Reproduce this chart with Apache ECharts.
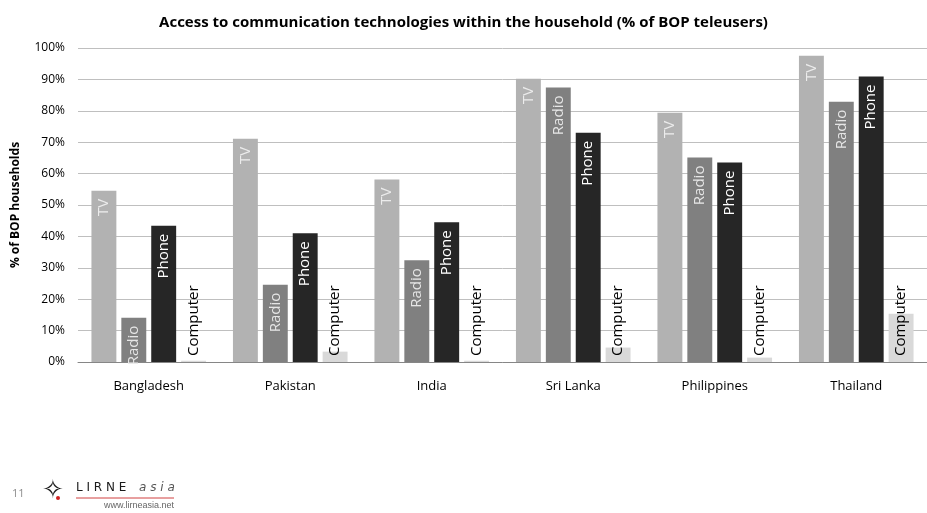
<!DOCTYPE html>
<html>
<head>
<meta charset="utf-8">
<script src="https://cdn.jsdelivr.net/npm/echarts@6/dist/echarts.min.js"></script>
<style>
  html, body { margin: 0; padding: 0; background: #fff; }
  #chart { width: 927px; height: 513px; }
</style>
</head>
<body>
<div id="chart"></div>
<script>
// data (% of BOP households)
const countries = ['Bangladesh', 'Pakistan', 'India', 'Sri Lanka', 'Philippines', 'Thailand']
const tvValues = [54.5, 71.1, 58.1, 90.2, 79.4, 97.5]
const radioValues = [14.1, 24.6, 32.4, 87.4, 65.1, 82.9]
const phoneValues = [43.4, 41.0, 44.5, 73.0, 63.5, 90.9]
const computerValues = [0.4, 3.3, 0.4, 4.6, 1.4, 15.4]

const chart = echarts.init(document.getElementById('chart'))

const font = 'Open Sans'

// label at the top of the bar, reading upwards
function topLabel(name, color) {
  return {
    show: true,
    position: 'insideTop',
    rotate: 90,
    align: 'right',
    verticalAlign: 'middle',
    distance: 8,
    formatter: name,
    color: color,
    fontFamily: font,
    fontSize: 15
  }
}

function makeBar(name, values, barColor, label) {
  return {
    name: name,
    type: 'bar',
    data: values,
    barGap: '20%',
    barCategoryGap: '19%',
    itemStyle: { color: barColor },
    label: label,
    emphasis: { disabled: true }
  }
}

const option = {
  animation: false,
  title: {
    text: 'Access to communication technologies within the household (% of BOP teleusers)',
    left: 'center',
    top: 10,
    textStyle: {
      fontFamily: font,
      fontWeight: 'bold',
      fontSize: 15,
      color: '#000'
    }
  },
  grid: {
    top: 48,
    bottom: 151,
    left: 78,
    right: -6
  },
  xAxis: {
    type: 'category',
    data: countries,
    axisTick: { show: false },
    axisLine: { lineStyle: { color: '#868686', width: 1 } },
    axisLabel: {
      margin: 18,
      color: '#000',
      fontFamily: font,
      fontSize: 13
    }
  },
  yAxis: {
    type: 'value',
    min: 0,
    max: 100,
    interval: 10,
    name: '% of BOP households',
    nameLocation: 'middle',
    nameRotate: 90,
    nameGap: 56,
    nameTextStyle: {
      fontFamily: font,
      fontWeight: 'bold',
      fontSize: 12,
      color: '#000'
    },
    axisLine: { show: false },
    axisTick: { show: false },
    axisLabel: {
      formatter: '{value}%',
      margin: 13,
      color: '#000',
      fontFamily: font,
      fontSize: 12
    },
    splitLine: { lineStyle: { color: '#bfbfbf', width: 1 } }
  },
  series: [
    makeBar('TV', tvValues, '#b2b2b2', topLabel('TV', '#ececec')),
    makeBar('Radio', radioValues, '#808080', topLabel('Radio', '#e6e6e6')),
    makeBar('Phone', phoneValues, '#262626', topLabel('Phone', '#ffffff')),
    makeBar('Computer', computerValues, '#d9d9d9', {
      show: true,
      position: 'insideBottom',
      rotate: 90,
      align: 'left',
      verticalAlign: 'middle',
      distance: 6,
      formatter: 'Computer',
      color: '#000',
      fontFamily: font,
      fontSize: 15
    })
  ],
  graphic: [
    // slide footer: page number and LIRNEasia mark
    { type: 'text', left: 12, top: 488, style: { text: '11', fill: '#8c8c8c', font: '11px "Open Sans"' } },
    { type: 'text', left: 42, top: 478, style: { text: '\u2727', fill: '#1a1a1a', font: 'bold 26px "DejaVu Sans"' } },
    { type: 'circle', shape: { cx: 58, cy: 498, r: 2 }, style: { fill: '#d02020' } },
    { type: 'text', left: 76, top: 482, style: { text: 'L I R N E', fill: '#1a1a1a', font: '12px "DejaVu Sans"' } },
    { type: 'text', left: 139, top: 482, style: { text: 'a s i a', fill: '#555', font: 'italic 12px "DejaVu Sans"' } },
    { type: 'line', shape: { x1: 76, y1: 498, x2: 174, y2: 498 }, style: { stroke: '#d04040', lineWidth: 1 } },
    { type: 'text', left: 104, top: 501, style: { text: 'www.lirneasia.net', fill: '#666', font: '9px "Liberation Sans"' } }
  ]
}

chart.setOption(option)
</script>
</body>
</html>
